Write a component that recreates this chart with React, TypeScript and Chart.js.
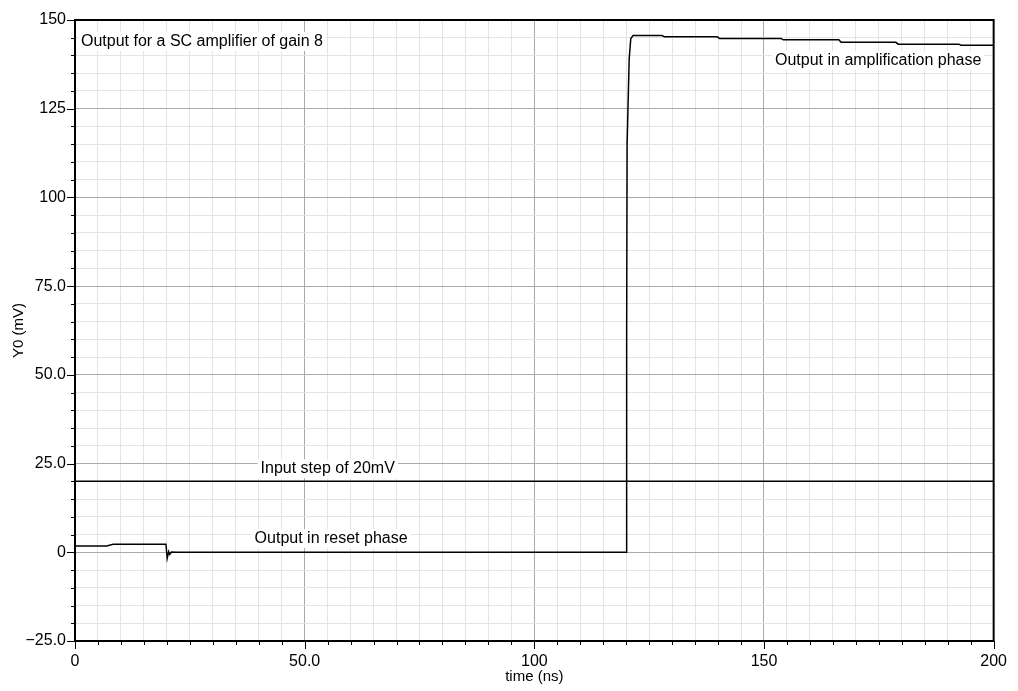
import React, { useEffect, useRef } from "react";
import { Chart, registerables } from "chart.js";

Chart.register(...registerables);

// Amplifier output (mV) against time (ns)
const outputTimeNs = [
  0, 6.9, 8.3, 19.8, 20.07, 20.4, 20.65, 21.0, 22, 120, 120.1, 120.2, 120.65, 121.0, 121.5,
  127.8, 128.3, 139.8, 140.3, 153.7, 154.2, 166.3, 166.8, 178.7, 179.2, 192.4, 192.9, 200,
];
const outputMv = [
  1.8, 1.8, 2.25, 2.25, -1.7, 0.2, -0.6, 0.1, 0, 0, 60, 115, 139, 144.8, 145.6,
  145.6, 145.3, 145.3, 144.8, 144.8, 144.4, 144.4, 143.7, 143.7, 143.2, 143.2, 142.9, 142.9,
];

// Input step (mV)
const inputTimeNs = [0, 200];
const inputMv = [20, 20];

// Labelled axis ticks
const xTickValues = [0, 50, 100, 150, 200];
const xTickLabels = ["0", "50.0", "100", "150", "200"];
const yTickValues = [-25, 0, 25, 50, 75, 100, 125, 150];
const yTickLabels = ["\u221225.0", "0", "25.0", "50.0", "75.0", "100", "125", "150"];

// Text notes, anchored at (time, mV) of their left baseline
const noteTexts = [
  "Output for a SC amplifier of gain 8",
  "Output in amplification phase",
  "Input step of 20mV",
  "Output in reset phase",
];
const noteTimeNs = [1.3, 152.4, 40.4, 39.1];
const noteMv = [142.66, 137.3, 22.26, 2.6];

const FONT = "'Liberation Sans', Arial, Helvetica, sans-serif";
const MAJOR_GRID = "#a9a9a9";
const MINOR_GRID = "#e4e4e4";

const notesPlugin = {
  id: "notes",
  beforeDatasetsDraw(chart: any) {
    const { ctx, scales } = chart;
    ctx.save();
    ctx.font = `16px ${FONT}`;
    ctx.textBaseline = "alphabetic";
    ctx.textAlign = "left";
    noteTexts.forEach((txt, i) => {
      const x = scales.x.getPixelForValue(noteTimeNs[i]);
      const y = scales.y.getPixelForValue(noteMv[i]);
      const w = ctx.measureText(txt).width;
      ctx.fillStyle = "#ffffff";
      ctx.fillRect(x - 3, y - 14, w + 6, 19);
      ctx.fillStyle = "#000000";
      ctx.fillText(txt, x, y);
    });
    ctx.restore();
  },
};

const framePlugin = {
  id: "frame",
  afterDraw(chart: any) {
    const { ctx, chartArea, scales } = chart;
    const { left, right, top, bottom } = chartArea;
    ctx.save();
    ctx.strokeStyle = "#000000";
    ctx.lineWidth = 1;
    // y tick marks
    scales.y.ticks.forEach((t: any) => {
      const py = Math.round(scales.y.getPixelForValue(t.value)) + 0.5;
      const len = yTickValues.includes(t.value) ? 8 : 4;
      ctx.beginPath();
      ctx.moveTo(left - len, py);
      ctx.lineTo(left, py);
      ctx.stroke();
    });
    // x tick marks
    scales.x.ticks.forEach((t: any) => {
      const px = Math.round(scales.x.getPixelForValue(t.value)) + 0.5;
      const len = xTickValues.includes(t.value) ? 8 : 4;
      ctx.beginPath();
      ctx.moveTo(px, bottom);
      ctx.lineTo(px, bottom + len);
      ctx.stroke();
    });
    // top and right frame
    ctx.lineWidth = 2;
    ctx.beginPath();
    ctx.moveTo(left, top);
    ctx.lineTo(right, top);
    ctx.lineTo(right, bottom);
    ctx.stroke();
    ctx.restore();
  },
};

export default function App() {
  const canvasRef = useRef<HTMLCanvasElement | null>(null);

  useEffect(() => {
    const canvas = canvasRef.current;
    if (!canvas) return;

    const outputPoints = outputTimeNs.map((t, i) => ({ x: t, y: outputMv[i] }));
    const inputPoints = inputTimeNs.map((t, i) => ({ x: t, y: inputMv[i] }));

    const chart = new Chart(canvas, {
      type: "line",
      data: {
        datasets: [
          {
            label: "Input",
            data: inputPoints,
            borderColor: "#000000",
            borderWidth: 1.5,
            pointRadius: 0,
            tension: 0,
          },
          {
            label: "Output",
            data: outputPoints,
            borderColor: "#000000",
            borderWidth: 1.5,
            pointRadius: 0,
            tension: 0,
          },
        ],
      },
      options: {
        responsive: false,
        animation: false,
        devicePixelRatio: 1,
        events: [],
        layout: { padding: { top: 20, right: 23, left: 0, bottom: 0 } },
        plugins: {
          legend: { display: false },
          tooltip: { enabled: false },
        },
        scales: {
          x: {
            type: "linear",
            min: 0,
            max: 200,
            afterFit(scale: any) {
              scale.height = 50;
            },
            border: { display: true, color: "#000000", width: 2 },
            grid: {
              drawTicks: false,
              color: (c: any) => (c.tick && c.tick.value % 50 === 0 ? MAJOR_GRID : MINOR_GRID),
              lineWidth: 1,
            },
            ticks: {
              stepSize: 5,
              autoSkip: false,
              maxRotation: 0,
              padding: 11,
              color: "#000000",
              font: { family: FONT, size: 16 },
              callback: (v: any) => {
                const i = xTickValues.indexOf(Number(v));
                return i >= 0 ? xTickLabels[i] : "";
              },
            },
            title: {
              display: true,
              text: "time (ns)",
              color: "#000000",
              font: { family: FONT, size: 15 },
              padding: { top: 0, bottom: 5 },
            },
          },
          y: {
            type: "linear",
            min: -25,
            max: 150,
            afterFit(scale: any) {
              scale.width = 75;
            },
            border: { display: true, color: "#000000", width: 2 },
            grid: {
              drawTicks: false,
              color: (c: any) => (c.tick && c.tick.value % 25 === 0 ? MAJOR_GRID : MINOR_GRID),
              lineWidth: 1,
            },
            ticks: {
              stepSize: 5,
              autoSkip: false,
              padding: 9,
              color: "#000000",
              font: { family: FONT, size: 16 },
              callback: (v: any) => {
                const i = yTickValues.indexOf(Number(v));
                return i >= 0 ? yTickLabels[i] : "";
              },
            },
            title: {
              display: true,
              text: "Y0 (mV)",
              color: "#000000",
              font: { family: FONT, size: 15 },
              padding: { top: 10, bottom: 0 },
            },
          },
        },
      },
      plugins: [notesPlugin, framePlugin],
    });

    return () => chart.destroy();
  }, []);

  return (
    <div style={{ position: "absolute", left: 0, top: 0, width: 1018, height: 691, background: "#ffffff" }}>
      <canvas ref={canvasRef} width={1018} height={691} />
    </div>
  );
}
